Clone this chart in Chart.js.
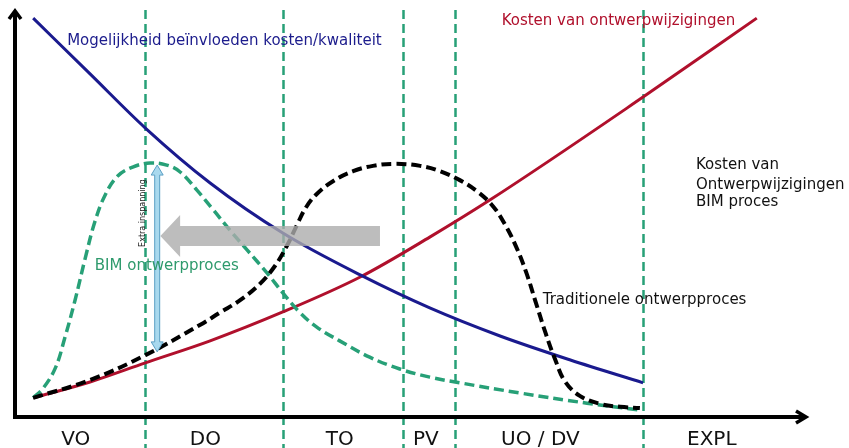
<!DOCTYPE html>
<html>
<head>
<meta charset="utf-8">
<script src="https://cdn.jsdelivr.net/npm/chart.js@4.4.1/dist/chart.umd.min.js"></script>
<style>
  html, body { margin: 0; padding: 0; background: #fff; }
  #wrap { width: 849px; height: 448px; position: relative; }
</style>
</head>
<body>
<div id="wrap"><canvas id="curveChart"></canvas></div>
<script>
// phases along the time axis (0..100)
const phaseBounds = [16.5, 33.9, 49.1, 55.7, 79.5];
const phaseLabels = ['VO', 'DO', 'TO', 'PV', 'UO / DV', 'EXPL'];
const phaseLabelX = [7.7, 24.1, 41.1, 52.0, 66.5, 88.2];

// Mogelijkheid beinvloeden kosten/kwaliteit
const blueX = [2.3, 9.5, 16.5, 24.7, 33.9, 43.7, 52.5, 61.4, 70.3, 79.5];
const blueY = [98.0, 84.3, 71.0, 57.5, 45.2, 34.9, 26.8, 19.9, 14.0, 8.4];

// Kosten van ontwerpwijzigingen
const redX = [2.3, 9.5, 16.5, 24.7, 33.9, 43.7, 52.5, 60.1, 79.5, 93.9];
const redY = [4.7, 8.6, 13.3, 18.7, 25.8, 34.4, 44.2, 53.3, 78.6, 98.0];

// Traditionele ontwerpproces
const tradX = [2.3, 9.5, 16.5, 23.4, 25.9, 28.5, 31.0, 32.9, 34.4, 35.7, 36.8, 38.2, 40.3, 42.8, 45.3, 48.1, 51.3, 53.8, 56.3, 58.6, 60.5, 62.0, 63.4, 64.7, 65.9, 67.2, 68.4, 69.6, 71.5, 74.1, 76.6, 79.1];
const tradY = [4.7, 9.1, 15.2, 22.6, 25.6, 28.7, 32.7, 37.1, 42.0, 47.2, 51.4, 54.8, 58.0, 60.4, 61.7, 62.2, 61.7, 60.4, 58.2, 55.3, 51.8, 47.4, 42.0, 35.6, 28.3, 20.4, 14.0, 8.8, 5.2, 3.2, 2.5, 2.2];

// BIM ontwerpproces
const bimX = [2.3, 3.5, 5.1, 6.3, 7.6, 8.9, 10.1, 11.4, 13.0, 14.9, 17.1, 19.2, 20.9, 23.0, 25.1, 27.2, 29.4, 31.9, 33.9, 36.1, 38.2, 41.1, 44.9, 48.7, 52.5, 56.3, 63.9, 72.4, 79.1];
const bimY = [4.7, 6.9, 12.0, 19.4, 28.7, 39.1, 47.9, 54.5, 59.2, 61.4, 62.4, 61.9, 60.2, 55.8, 50.9, 45.9, 41.0, 35.4, 30.5, 25.6, 22.1, 18.7, 14.7, 11.8, 9.8, 8.4, 5.9, 3.4, 1.7];

// annotations (data units)
const shiftArrow = { tip: 18.4, head: 20.9, tail: 46.2, y: 44.5 };
const effortArrow = { x: 18.0, top: 61.9, bottom: 16.0 };
const effortLabel = { x: 16.2, y: 50.1, text: 'Extra inspanning' };
const texts = [
  { text: 'Mogelijkheid beïnvloeden kosten/kwaliteit', x: 6.6, y: 91.4, color: '#1c1c8c' },
  { text: 'Kosten van ontwerpwijzigingen', x: 61.6, y: 96.3, color: '#b0102c' },
  { text: 'Kosten van', x: 86.2, y: 60.9, color: '#111' },
  { text: 'Ontwerpwijzigingen', x: 86.2, y: 56.0, color: '#111' },
  { text: 'BIM proces', x: 86.2, y: 51.8, color: '#111' },
  { text: 'BIM ontwerpproces', x: 10.1, y: 36.1, color: '#2e9a6c' },
  { text: 'Traditionele ontwerpproces', x: 66.8, y: 27.8, color: '#111' }
];
const phaseLabelY = -6.9;

const GREEN = '#27a077';
const FONT = '"DejaVu Sans", Verdana, sans-serif';

function pts(xs, ys) {
    return xs.map((v, i) => ({ x: v, y: ys[i] }));
}

const overlay = {
    id: 'overlay',
    beforeDatasetsDraw(chart) {
        const { ctx, chartArea: a, scales: { x, y } } = chart;
        ctx.save();
        // phase dividers
        ctx.strokeStyle = GREEN;
        ctx.lineWidth = 2.5;
        ctx.setLineDash([9, 5]);
        phaseBounds.forEach(v => {
            const px = Math.round(x.getPixelForValue(v)) + 0.5;
            ctx.beginPath();
            ctx.moveTo(px, a.top);
            ctx.lineTo(px, chart.height);
            ctx.stroke();
        });
        ctx.setLineDash([]);

        // axes with open arrow heads
        ctx.strokeStyle = '#000';
        ctx.lineWidth = 4;
        ctx.beginPath();
        ctx.moveTo(a.left, a.top + 2);
        ctx.lineTo(a.left, a.bottom);
        ctx.lineTo(a.right, a.bottom);
        ctx.stroke();
        ctx.lineWidth = 3.5;
        ctx.beginPath();
        ctx.moveTo(a.left - 6, a.top + 9);
        ctx.lineTo(a.left, a.top + 1);
        ctx.lineTo(a.left + 6, a.top + 9);
        ctx.stroke();
        ctx.beginPath();
        ctx.moveTo(a.right - 9, a.bottom - 6);
        ctx.lineTo(a.right + 1, a.bottom);
        ctx.lineTo(a.right - 9, a.bottom + 6);
        ctx.stroke();

        // phase labels
        ctx.fillStyle = '#111';
        ctx.font = '20px ' + FONT;
        ctx.textAlign = 'center';
        ctx.textBaseline = 'alphabetic';
        phaseLabels.forEach((t, i) => {
            ctx.fillText(t, x.getPixelForValue(phaseLabelX[i]), y.getPixelForValue(phaseLabelY));
        });
        ctx.restore();
    },
    afterDatasetsDraw(chart) {
        const { ctx, scales: { x, y } } = chart;
        ctx.save();

        // grey arrow pointing left
        const cy = y.getPixelForValue(shiftArrow.y);
        const tx = x.getPixelForValue(shiftArrow.tip);
        const hx = x.getPixelForValue(shiftArrow.head);
        const ex = x.getPixelForValue(shiftArrow.tail);
        ctx.fillStyle = 'rgba(172,172,172,0.8)';
        ctx.beginPath();
        ctx.moveTo(tx, cy);
        ctx.lineTo(hx, cy - 21);
        ctx.lineTo(hx, cy - 10);
        ctx.lineTo(ex, cy - 10);
        ctx.lineTo(ex, cy + 10);
        ctx.lineTo(hx, cy + 10);
        ctx.lineTo(hx, cy + 21);
        ctx.closePath();
        ctx.fill();

        // light blue double arrow
        const sx = x.getPixelForValue(effortArrow.x);
        const yt = y.getPixelForValue(effortArrow.top);
        const yb = y.getPixelForValue(effortArrow.bottom);
        ctx.fillStyle = '#a9d9ee';
        ctx.strokeStyle = '#5b9fc4';
        ctx.lineWidth = 1;
        ctx.beginPath();
        ctx.moveTo(sx, yt);
        ctx.lineTo(sx + 6, yt + 10);
        ctx.lineTo(sx + 2.5, yt + 10);
        ctx.lineTo(sx + 2.5, yb - 10);
        ctx.lineTo(sx + 6, yb - 10);
        ctx.lineTo(sx, yb);
        ctx.lineTo(sx - 6, yb - 10);
        ctx.lineTo(sx - 2.5, yb - 10);
        ctx.lineTo(sx - 2.5, yt + 10);
        ctx.lineTo(sx - 6, yt + 10);
        ctx.closePath();
        ctx.fill();
        ctx.stroke();

        // rotated small label
        ctx.save();
        ctx.translate(x.getPixelForValue(effortLabel.x), y.getPixelForValue(effortLabel.y));
        ctx.rotate(-Math.PI / 2);
        ctx.fillStyle = '#222';
        ctx.font = '8px ' + FONT;
        ctx.textAlign = 'center';
        ctx.textBaseline = 'middle';
        ctx.fillText(effortLabel.text, 0, 0);
        ctx.restore();

        // text annotations
        ctx.font = '15px ' + FONT;
        ctx.textAlign = 'left';
        ctx.textBaseline = 'alphabetic';
        texts.forEach(t => {
            ctx.fillStyle = t.color;
            ctx.fillText(t.text, x.getPixelForValue(t.x), y.getPixelForValue(t.y));
        });
        ctx.restore();
    }
};

const lineStyle = {
    pointRadius: 0,
    fill: false,
    tension: 0.4,
    clip: false
};

new Chart(document.getElementById('curveChart'), {
    type: 'line',
    data: {
        datasets: [
            { ...lineStyle, label: 'Traditionele ontwerpproces', data: pts(tradX, tradY), borderColor: '#000', borderWidth: 4, borderDash: [10, 5] },
            { ...lineStyle, label: 'BIM ontwerpproces', data: pts(bimX, bimY), borderColor: GREEN, borderWidth: 3.5, borderDash: [10, 5] },
            { ...lineStyle, label: 'Mogelijkheid beïnvloeden kosten/kwaliteit', data: pts(blueX, blueY), borderColor: '#1a1a8e', borderWidth: 3, cubicInterpolationMode: 'monotone' },
            { ...lineStyle, label: 'Kosten van ontwerpwijzigingen', data: pts(redX, redY), borderColor: '#b0102c', borderWidth: 3, cubicInterpolationMode: 'monotone' }
        ]
    },
    options: {
        responsive: true,
        maintainAspectRatio: false,
        animation: false,
        layout: { padding: { left: 15, top: 10, right: 44, bottom: 31 } },
        plugins: {
            legend: { display: false },
            tooltip: { enabled: false }
        },
        scales: {
            x: { type: 'linear', min: 0, max: 100, display: false },
            y: { min: 0, max: 100, display: false }
        }
    },
    plugins: [overlay]
});
</script>
</body>
</html>
